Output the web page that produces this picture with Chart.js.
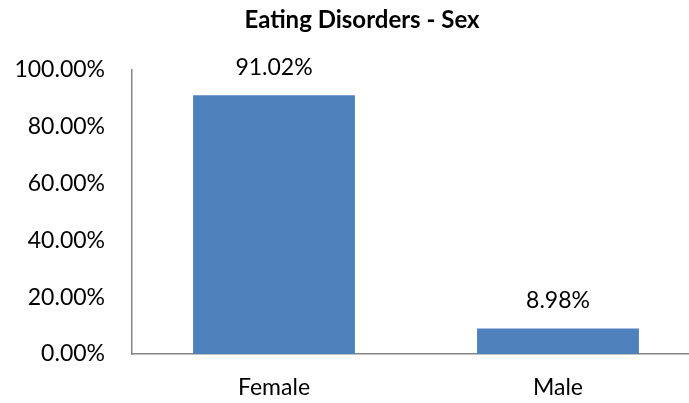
<!DOCTYPE html>
<html lang="en">
<head>
    <meta charset="utf-8">
    <title>Eating Disorders - Sex</title>
    <script src="https://cdn.jsdelivr.net/npm/chart.js@4.4.0/dist/chart.umd.min.js"></script>
    <style>
        html, body { margin: 0; padding: 0; background: #fff; }
        .kontainer { width: 689px; height: 403px; }
    </style>
</head>
<body>
    <div class="kontainer">
        <canvas id="myChart" width="689" height="403"></canvas>
    </div>
    <script>
        var kategorier = ['Female', 'Male'];
        var andelar = [91.02, 8.98];
        var yTicks = [0, 20, 40, 60, 80, 100];

        var textFont = 'Lato, "Open Sans", sans-serif';

        // prints the value above every bar
        const stapelEtiketter = {
            id: 'stapelEtiketter',
            afterDatasetsDraw(chart) {
                const ctx = chart.ctx;
                ctx.save();
                ctx.fillStyle = '#000';
                ctx.font = '23px ' + textFont;
                ctx.textAlign = 'center';
                ctx.textBaseline = 'middle';
                chart.getDatasetMeta(0).data.forEach((bar, i) => {
                    ctx.fillText(andelar[i].toFixed(2) + '%', bar.x, bar.y - 28);
                });
                ctx.restore();
            }
        };

        // let the category axis run a little past the right edge of the canvas,
        // and centre the title a bit further right
        const bredAxel = {
            id: 'bredAxel',
            afterLayout(chart) {
                const x = chart.scales.x;
                x.right = x.left + 568;
                x.width = 568;
                x.configure();
                if (chart.titleBlock) chart.titleBlock.left += 35;
            }
        };

        Chart.defaults.font.family = textFont;
        Chart.defaults.color = '#000';

        const ctx = document.getElementById('myChart').getContext('2d');
        const myChart = new Chart(ctx, {
            type: 'bar',
            data: {
                labels: kategorier,
                datasets: [{
                    data: andelar,
                    backgroundColor: '#4F81BD',
                    borderWidth: 0,
                    barPercentage: 1,
                    categoryPercentage: 0.57
                }]
            },
            options: {
                responsive: false,
                animation: false,
                layout: { padding: 0 },
                plugins: {
                    legend: { display: false },
                    tooltip: { enabled: false },
                    title: {
                        display: true,
                        text: 'Eating Disorders - Sex',
                        font: { size: 24, weight: 'bold' },
                        color: '#000',
                        padding: { top: 6, bottom: 35 }
                    }
                },
                scales: {
                    x: {
                        afterFit: scale => { scale.height = 49; },
                        grid: { display: false },
                        border: { display: true, color: '#868686', width: 1.5 },
                        ticks: { font: { size: 23 }, padding: 12 }
                    },
                    y: {
                        min: 0,
                        max: 100,
                        afterBuildTicks: scale => {
                            scale.ticks = yTicks.map(v => ({ value: v }));
                        },
                        afterFit: scale => { scale.width = 132; },
                        grid: { display: false },
                        border: { display: true, color: '#868686', width: 1.5 },
                        ticks: {
                            font: { size: 23 },
                            padding: 19,
                            callback: v => v.toFixed(2) + '%'
                        }
                    }
                }
            },
            plugins: [stapelEtiketter, bredAxel]
        });
    </script>
</body>
</html>
